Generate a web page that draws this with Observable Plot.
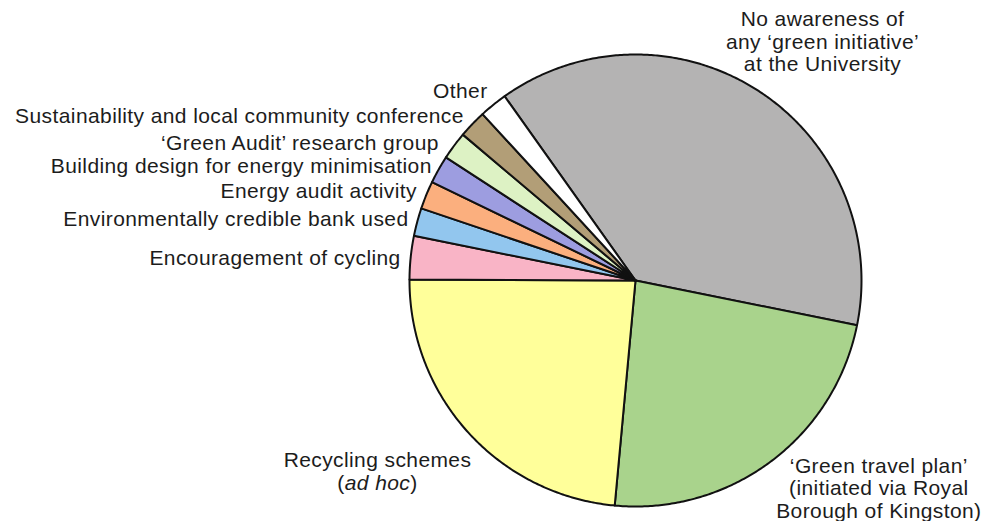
<!DOCTYPE html>
<html><head><meta charset="utf-8">
<script src="https://cdn.jsdelivr.net/npm/d3@7"></script>
<script src="https://cdn.jsdelivr.net/npm/@observablehq/plot@0.6"></script>
<style>body{margin:0;background:#fff}</style>
</head><body><div id="chart"></div>
<script>
// ---- data ----
const categories = [
  "No awareness of\nany ‘green initiative’\nat the University",
  "‘Green travel plan’\n(initiated via Royal\nBorough of Kingston)",
  "Recycling schemes\n(ad hoc)",
  "Encouragement of cycling",
  "Environmentally credible bank used",
  "Energy audit activity",
  "Building design for energy minimisation",
  "‘Green Audit’ research group",
  "Sustainability and local community conference",
  "Other"
];
const values = [38, 23.3, 23.6, 3.1, 2, 2, 2, 2, 2, 2];

// ---- style / layout ----
const colors = ["#b4b3b3", "#a9d38c", "#ffff9a", "#f9b4c6", "#92c6ee", "#fbaf7e", "#9d9de0", "#ddf2c4", "#b29e77", "#ffffff"];
const labelAnchor = ["middle", "middle", "middle", "end", "end", "end", "end", "end", "end", "end"];
const labelNudge = [[59, -42], [103, 19], [-84, 33], [-1, 1], [0, -1], [-1, -1], [1, 1], [-8, 2], [-2, -2], [0, -7]];
const W = 985, H = 521, CX = 635, CY = 280, R = 226;
const startDeg = -35.4;
const labelR = 1.04;

const a0 = startDeg * Math.PI / 180;
const arcs = d3.pie().sort(null).value(d => d.value).startAngle(a0).endAngle(a0 + 2 * Math.PI)(
  categories.map((c, i) => ({name: c, value: values[i], i}))
);

const slices = arcs.map(a => {
  const n = Math.max(2, Math.ceil((a.endAngle - a.startAngle) / (Math.PI / 360)));
  const p = [{x: 0, y: 0}];
  for (let j = 0; j <= n; j++) {
    const t = a.startAngle + (a.endAngle - a.startAngle) * j / n;
    p.push({x: Math.sin(t), y: Math.cos(t)});
  }
  p.push({x: 0, y: 0});
  return p;
});

const labels = arcs.map(a => {
  const m = (a.startAngle + a.endAngle) / 2;
  const i = a.data.i;
  return {
    text: a.data.name,
    anchor: labelAnchor[i],
    x: Math.sin(m) * labelR + labelNudge[i][0] / R,
    y: Math.cos(m) * labelR - labelNudge[i][1] / R
  };
});

const font = "Liberation Sans, Arial, Helvetica, sans-serif";
const textOpts = {x: "x", y: "y", text: "text", fontSize: 21, fontFamily: font, fill: "#1c1c1c", lineHeight: 1.08, lineAnchor: "middle"};

const chart = Plot.plot({
  width: W, height: H, margin: 0,
  x: {domain: [-CX / R, (W - CX) / R], axis: null},
  y: {domain: [-(H - CY) / R, CY / R], axis: null},
  style: {fontFamily: font, letterSpacing: "0.4px", background: "#fff"},
  marks: [
    ...slices.map((p, i) => Plot.line(p, {x: "x", y: "y", fill: colors[i], stroke: "#111", strokeWidth: 2, strokeLinejoin: "round"})),
    Plot.text(labels.filter(d => d.anchor === "end"), {...textOpts, textAnchor: "end"}),
    Plot.text(labels.filter(d => d.anchor === "middle"), {...textOpts, textAnchor: "middle"})
  ]
});

// italic "ad hoc" within the parentheses
chart.querySelectorAll("tspan, text").forEach(el => {
  if (el.childElementCount === 0 && el.textContent === "(ad hoc)") {
    el.textContent = "";
    el.appendChild(document.createTextNode("("));
    const it = document.createElementNS("http://www.w3.org/2000/svg", "tspan");
    it.setAttribute("font-style", "italic");
    it.textContent = "ad hoc";
    el.appendChild(it);
    el.appendChild(document.createTextNode(")"));
  }
});

document.getElementById("chart").appendChild(chart);
</script>
</body></html>
